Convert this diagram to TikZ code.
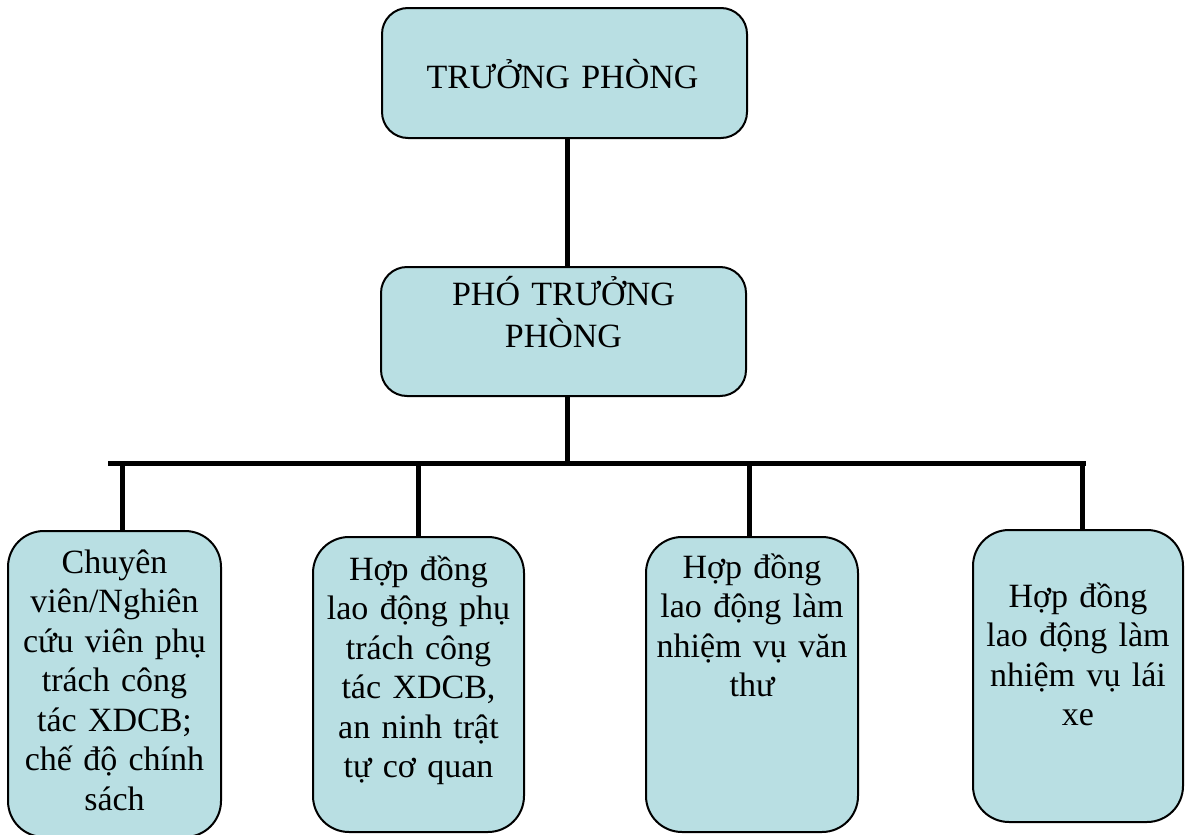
\documentclass[tikz,border=0pt]{standalone}
\usepackage{fontspec}
\setmainfont{Liberation Serif}
\definecolor{boxfill}{RGB}{185,223,227}
\tikzset{
  box/.style={draw=black, line width=2pt, fill=boxfill, rectangle, inner sep=0pt},
  topbox/.style={box, rounded corners=26pt},
  lowbox/.style={box, rounded corners=36pt},
  txt/.style={align=center, text width=205pt, inner sep=0pt, anchor=base, font=\fontsize{34}{39.5}\selectfont},
  toptxt/.style={txt, text width=340pt, font=\fontsize{34}{42}\selectfont},
  conn/.style={draw=black, line width=5pt}
}
\begin{document}
\begin{tikzpicture}[x=1pt,y=-1pt]
\useasboundingbox (0,0) rectangle (1186,835);
% boxes
\node[topbox, minimum width=365pt, minimum height=130pt] (tp) at (564.5,73) {};
\node[topbox, minimum width=365pt, minimum height=129pt] (ptp) at (563.5,331.5) {};
\node[lowbox, minimum width=213pt, minimum height=306pt] (b1) at (114.5,684) {};
\node[lowbox, minimum width=211pt, minimum height=295pt] (b2) at (418.5,684.5) {};
\node[lowbox, minimum width=212pt, minimum height=295pt] (b3) at (752,684.5) {};
\node[lowbox, minimum width=210pt, minimum height=292pt] (b4) at (1078,676) {};
% texts (positioned at first baseline)
\node[toptxt] (ttp) at (562.5,88) {TRƯỞNG PHÒNG};
\node[toptxt] (tptp) at (563.5,305) {PHÓ TRƯỞNG\\PHÒNG};
\node[txt] (tb1) at (114.5,573) {Chuyên\\viên/Nghiên\\cứu viên phụ\\trách công\\tác XDCB;\\chế độ chính\\sách};
\node[txt] (tb2) at (418.5,580) {Hợp đồng\\lao động phụ\\trách công\\tác XDCB,\\an ninh trật\\tự cơ quan};
\node[txt] (tb3) at (752,578) {Hợp đồng\\lao động làm\\nhiệm vụ văn\\thư};
\node[txt] (tb4) at (1078,607) {Hợp đồng\\lao động làm\\nhiệm vụ lái\\xe};
% connector coordinates
\coordinate (c0) at (567,138);
\coordinate (c1) at (567,267);
\coordinate (c2) at (567,396);
\coordinate (barL) at (108,463);
\coordinate (barM) at (567,463);
\coordinate (barR) at (1086,463);
\coordinate (d1) at (122,463);
\coordinate (d2) at (418,463);
\coordinate (d3) at (749,463);
\coordinate (d4) at (1082,463);
% connectors
\draw[conn] (c0 |- tp.south) -- (c1 |- ptp.north);
\draw[conn] (c2 |- ptp.south) -- (barM);
\draw[conn] (barL) -- (barR);
\draw[conn] (d1) -- (d1 |- b1.north);
\draw[conn] (d2) -- (d2 |- b2.north);
\draw[conn] (d3) -- (d3 |- b3.north);
\draw[conn] (d4) -- (d4 |- b4.north);
\end{tikzpicture}
\end{document}
